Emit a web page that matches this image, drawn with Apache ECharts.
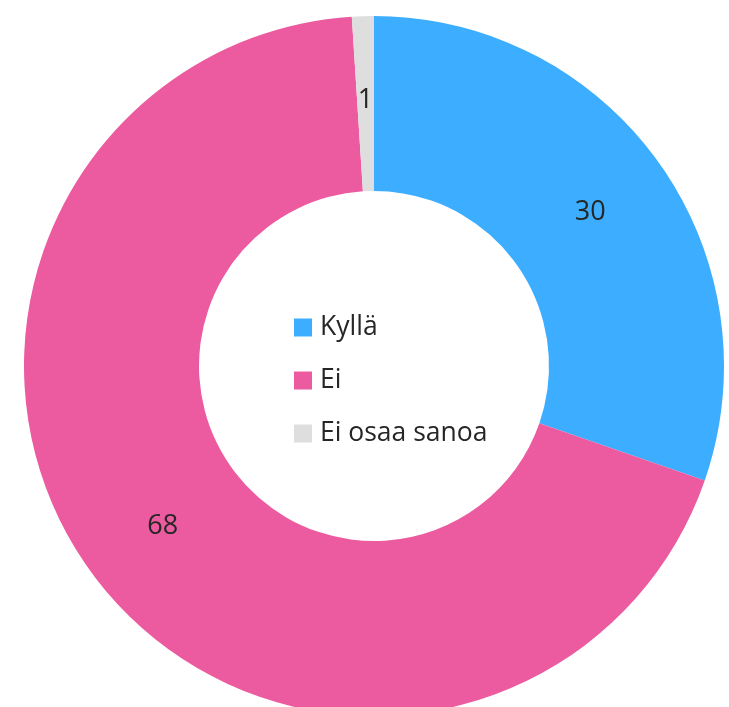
<!DOCTYPE html>
<html>
<head>
<meta charset="utf-8">
<script src="https://cdn.jsdelivr.net/npm/echarts@6/dist/echarts.min.js"></script>
<style>
  html, body { margin: 0; padding: 0; background: #fff; }
  #chart { width: 729px; height: 707px; }
</style>
</head>
<body>
<div id="chart"></div>
<script>
// vastaukset
var categories = ['Kyllä', 'Ei', 'Ei osaa sanoa'];
var values = [30, 68, 1];
var colors = ['#3DAEFF', '#EC5A9F', '#DEDEDE'];

var chart = echarts.init(document.getElementById('chart'));

var pieData = categories.map(function (name, i) {
  return { name: name, value: values[i], itemStyle: { color: colors[i] } };
});

chart.setOption({
  animation: false,
  textStyle: { fontFamily: '"Open Sans", sans-serif' },
  legend: {
    orient: 'vertical',
    left: 294,
    top: 314,
    padding: 0,
    itemWidth: 18,
    itemHeight: 18,
    itemGap: 26,
    icon: 'rect',
    data: categories,
    textStyle: { fontSize: 26.5, color: '#262626', padding: [0, 0, 0, 3], lineHeight: 26 }
  },
  series: [{
    type: 'pie',
    center: [374, 366],
    radius: [175, 350],
    startAngle: 90,
    clockwise: true,
    avoidLabelOverlap: false,
    label: {
      show: true,
      position: 'inside',
      formatter: '{c}',
      fontSize: 27,
      color: '#262626'
    },
    labelLine: { show: false },
    emphasis: { disabled: true },
    data: pieData
  }]
});
</script>
</body>
</html>
